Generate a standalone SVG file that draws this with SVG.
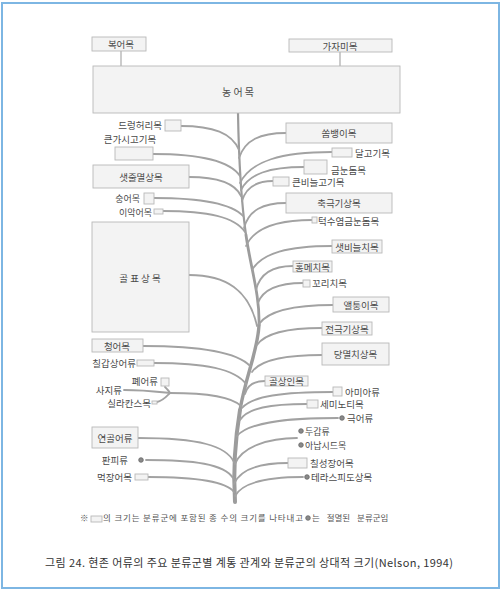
<svg xmlns="http://www.w3.org/2000/svg" width="502" height="592" viewBox="0 0 502 592">
<style>
.bg{fill:#ffffff}
.frame{fill:none;stroke:#7db6e3;stroke-width:2}
.box{fill:#f3f3f3;stroke:#b8b8b8;stroke-width:0.9}
.lbl{font-family:"Noto Sans CJK KR","Noto Sans CJK SC",sans-serif;font-size:9.5px;fill:#4a4a4a;dominant-baseline:central}
.sm{font-size:9px}
.big{font-size:10px}
.mid{text-anchor:middle}
.end{text-anchor:end}
.br{fill:none;stroke:#a2a2a2;stroke-width:1.8;stroke-linecap:round}
.thin{fill:none;stroke:#999;stroke-width:1}
.tr{fill:none;stroke:#9c9c9c;stroke-linecap:round}
.dot{fill:#8a8a8a;stroke:#666;stroke-width:0.8}
.note{font-family:"Noto Sans CJK KR","Noto Sans CJK SC",sans-serif;font-size:8.5px;fill:#555}
.cap{font-family:"Noto Sans CJK KR","Noto Sans CJK SC",sans-serif;font-size:11px;fill:#333}
</style>
<rect class="bg" x="0" y="0" width="502" height="592"/>
<rect class="frame" x="2" y="3" width="497" height="585"/>

<g id="connectors">
  <path class="thin" d="M121,51 V66"/>
  <path class="thin" d="M340,52 V66"/>
  <!-- trunk -->
  <path class="tr" stroke-width="2.2" d="M238,113 C239,170 241,200 246,235"/>
  <path class="tr" stroke-width="2.8" d="M246,235 C250,265 260,295 259,325"/>
  <path class="tr" stroke-width="3.4" d="M259,325 C258,350 246,375 240,410"/>
  <path class="tr" stroke-width="4" d="M240,410 C235,440 233,470 235,502"/>
  <!-- left branches -->
  <path class="br" d="M181,126 C213,126 232,133 239,150"/>
  <path class="br" d="M153,154 C201,154 230,161 240,176"/>
  <path class="br" d="M189,177 C218,177 235,183 241,196"/>
  <path class="br" d="M154,198 C203,198 232,204 243,216"/>
  <path class="br" d="M163,211 C208,211 235,217 245,232"/>
  <path class="br" d="M189,275 C226,275 249,290 257,326"/>
  <path class="br" d="M143,346 C202,346 237,352 250,366"/>
  <path class="br" d="M154,363 C205,363 235,369 246,384"/>
  <path class="br" d="M170,393 C209,393 232,397 241,406"/>
  <path class="br" stroke-width="1.3" d="M124,390 C145,390 160,392 170,393"/>
  <path class="br" stroke-width="1.3" d="M165,387 C167,389 169,391 170,393"/>
  <path class="br" stroke-width="1.3" d="M157,402 C163,401 166,397 170,393"/>
  <path class="br" d="M138,438 C200,438 226,446 234,462"/>
  <path class="br" d="M146,460 C194,460 224,464 233,478"/>
  <path class="br" d="M148,477 C195,477 226,481 234,492"/>
  <!-- right branches -->
  <path class="br" d="M286,133 C260,133 245,140 239,158"/>
  <path class="br" d="M332,152 C281,152 251,161 240,183"/>
  <path class="br" d="M304,167 C269,167 249,174 241,190"/>
  <path class="br" d="M273,181 C256,181 246,187 242,201"/>
  <path class="br" d="M286,203 C263,203 249,210 244,228"/>
  <path class="br" d="M312,220 C276,220 254,228 246,246"/>
  <path class="br" d="M332,246 C288,246 262,253 252,270"/>
  <path class="br" d="M293,266 C273,266 260,273 256,290"/>
  <path class="br" d="M303,283 C278,283 263,289 258,303"/>
  <path class="br" d="M333,305 C292,305 268,311 259,324"/>
  <path class="br" d="M322,328 C286,328 265,333 257,345"/>
  <path class="br" d="M322,355 C283,355 260,360 252,372"/>
  <path class="br" d="M265,381 C254,381 247,386 245,394"/>
  <path class="br" d="M333,392 C283,392 252,396 242,408"/>
  <path class="br" d="M307,404 C270,404 248,408 240,420"/>
  <path class="br" d="M338,418 C282,418 248,423 237,436"/>
  <path class="br" d="M297,438 C268,438 242,447 235,464"/>
  <path class="br" d="M288,463 C258,463 240,470 234,484"/>
  <path class="br" d="M303,477 C266,477 242,483 235,496"/>
</g>

<g id="n-boeomok"><rect class="box" x="92" y="37" width="54" height="14"/><text class="lbl mid" x="121" y="44">복어목</text></g>
<g id="n-gajamimok"><rect class="box" x="289" y="39" width="103" height="13"/><text class="lbl mid" x="340" y="45.5">가자미목</text></g>
<g id="n-nongeomok"><rect class="box" x="93" y="66" width="307" height="47"/><text class="lbl mid big" x="238" y="91">농 어 목</text></g>

<g id="n-deuleong"><text class="lbl end" x="162" y="125">드렁허리목</text><rect class="box" x="165" y="120" width="16" height="11"/></g>
<g id="n-keungasi"><text class="lbl mid" x="130" y="139">큰가시고기목</text><rect class="box" x="115" y="147" width="38" height="13"/></g>
<g id="n-saetjul"><rect class="box" x="93" y="165" width="96" height="23"/><text class="lbl mid" x="141" y="177">샛줄멸상목</text></g>
<g id="n-sungeo"><text class="lbl end sm" x="140" y="198">숭어목</text><rect class="box" x="144" y="193" width="10" height="11"/></g>
<g id="n-iageo"><text class="lbl end sm" x="152" y="212">이악어목</text><rect class="box" x="154" y="209" width="9" height="5"/></g>
<g id="n-golpyo"><rect class="box" x="92" y="222" width="97" height="110"/><text class="lbl mid" x="140" y="278">골 표 상 목</text></g>
<g id="n-cheongeo"><rect class="box" x="92" y="339" width="51" height="13"/><text class="lbl mid" x="117" y="346">청어목</text></g>
<g id="n-chilgap"><text class="lbl end" x="136" y="363">칠갑상어류</text><rect class="box" x="137" y="360" width="17" height="6"/></g>
<g id="n-pyeeo"><text class="lbl end" x="158" y="381">폐어류</text><rect class="box" x="161" y="378" width="8" height="8"/></g>
<g id="n-saji"><text class="lbl end" x="122" y="390">사지류</text></g>
<g id="n-silla"><text class="lbl end" x="151" y="403">실라칸스목</text><rect class="box" x="152" y="401" width="5" height="3"/></g>
<g id="n-yeongol"><rect class="box" x="92" y="427" width="46" height="21"/><text class="lbl mid" x="115" y="438">연골어류</text></g>
<g id="n-panpi"><text class="lbl end" x="128" y="460">판피류</text><circle class="dot" cx="141" cy="460" r="2.3"/></g>
<g id="n-meokjang"><text class="lbl end" x="132" y="477">먹장어목</text><rect class="box" x="135" y="474" width="13" height="6"/></g>

<g id="n-ssombaengi"><rect class="box" x="286" y="123" width="106" height="20"/><text class="lbl mid" x="339" y="133">쏨뱅이목</text></g>
<g id="n-dalgogi"><rect class="box" x="332" y="148" width="20" height="9"/><text class="lbl" x="355" y="153">달고기목</text></g>
<g id="n-geumnun"><rect class="box" x="304" y="160" width="23" height="14"/><text class="lbl" x="331" y="170">금눈돔목</text></g>
<g id="n-keunbineul"><rect class="box" x="273" y="177" width="16" height="9"/><text class="lbl" x="292" y="182">큰비늘고기목</text></g>
<g id="n-chukgeuk"><rect class="box" x="286" y="193" width="106" height="20"/><text class="lbl mid" x="339" y="203">축극기상목</text></g>
<g id="n-teoksuyeom"><rect class="box" x="312" y="217" width="5" height="6"/><text class="lbl" x="318" y="221">턱수염금눈돔목</text></g>
<g id="n-saetbineul"><rect class="box" x="332" y="240" width="50" height="13"/><text class="lbl mid" x="357" y="246.5">샛비늘치목</text></g>
<g id="n-hongmechi"><rect class="box" x="293" y="261" width="39" height="11"/><text class="lbl mid" x="312.5" y="266.5">홍메치목</text></g>
<g id="n-kkori"><rect class="box" x="303" y="280" width="7" height="7"/><text class="lbl" x="312" y="283">꼬리치목</text></g>
<g id="n-aeltung"><rect class="box" x="333" y="297" width="56" height="15"/><text class="lbl mid" x="361" y="304.5">앨퉁이목</text></g>
<g id="n-jeongeuk"><rect class="box" x="322" y="322" width="50" height="13"/><text class="lbl mid" x="347" y="328.5">전극기상목</text></g>
<g id="n-dangmyeol"><rect class="box" x="322" y="343" width="67" height="22"/><text class="lbl mid" x="355.5" y="354">당멸치상목</text></g>
<g id="n-golsangin"><rect class="box" x="265" y="376" width="43" height="10"/><text class="lbl mid" x="286.5" y="381">골상인목</text></g>
<g id="n-amia"><rect class="box" x="333" y="387" width="9" height="9"/><text class="lbl" x="345" y="392">아미아류</text></g>
<g id="n-seminoti"><rect class="box" x="307" y="400" width="11" height="8"/><text class="lbl" x="320" y="404">세미노티목</text></g>
<g id="n-geukeo"><circle class="dot" cx="342" cy="418" r="2.3"/><text class="lbl" x="347" y="418">극어류</text></g>
<g id="n-dugap"><circle class="dot" cx="301" cy="431" r="2.3"/><text class="lbl sm" x="305" y="431">두갑류</text></g>
<g id="n-anapsid"><circle class="dot" cx="301" cy="445" r="2.3"/><text class="lbl sm" x="305" y="445">아납시드목</text></g>
<g id="n-chilseong"><rect class="box" x="288" y="458" width="19" height="10"/><text class="lbl" x="310" y="463">칠성장어목</text></g>
<g id="n-teraspido"><circle class="dot" cx="307" cy="477" r="2.3"/><text class="lbl" x="311" y="477">테라스피도상목</text></g>

<g id="legend">
  <text class="note" x="80" y="521">※</text>
  <rect class="box" x="91" y="516" width="11" height="6"/>
  <text class="note" x="103" y="521" textLength="200" lengthAdjust="spacing">의 크기는 분류군에 포함된 종 수의 크기를 나타내고</text>
  <circle class="dot" cx="308" cy="518" r="2.3"/>
  <text class="note" x="312" y="521" word-spacing="5">는 절멸된 분류군임</text>
</g>
<text class="cap" x="45" y="567" textLength="408" lengthAdjust="spacing">그림 24. 현존 어류의 주요 분류군별 계통 관계와 분류군의 상대적 크기(Nelson, 1994)</text>
</svg>
